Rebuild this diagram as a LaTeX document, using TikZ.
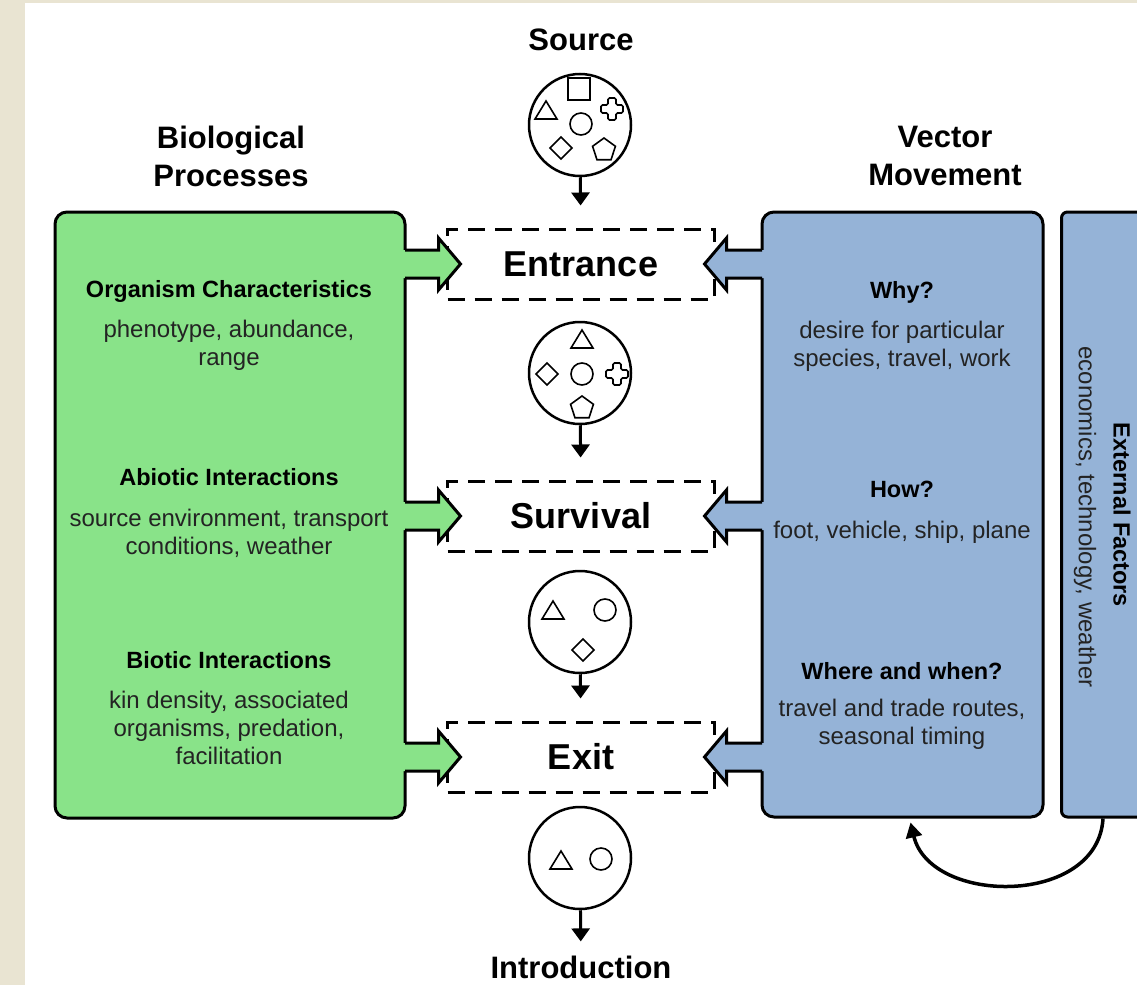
\documentclass[tikz,border=0pt]{standalone}
\usepackage{fontspec}
\setmainfont{Liberation Sans}
\usepackage{tikz}
\usetikzlibrary{arrows.meta,calc}
\definecolor{biogreen}{RGB}{137,227,137}
\definecolor{vecblue}{RGB}{149,179,215}
\definecolor{paper}{RGB}{233,228,210}
\definecolor{ink}{RGB}{35,35,35}
\newcommand{\factorhead}[1]{{\bfseries\fontsize{23.5}{28}\selectfont\color{black}#1}}
\tikzstyle{panel} =
        [
                rectangle,
                draw,
                line width = 3pt,
                rounded corners = 12pt,
                inner sep = 0pt
        ]
\tikzstyle{stage} =
        [
                rectangle,
                draw,
                line width = 3pt,
                dash pattern = on 17pt off 10pt,
                minimum width = 267pt,
                minimum height = 70pt,
                font = \fontsize{36}{40}\selectfont\bfseries
        ]
\tikzstyle{pool} =
        [
                circle,
                draw,
                line width = 2.5pt,
                minimum size = 102pt,
                inner sep = 0pt
        ]
\tikzstyle{title} =
        [
                align = center,
                inner sep = 0pt,
                font = \fontsize{31}{38}\selectfont\bfseries
        ]
\tikzstyle{factor} =
        [
                align = center,
                text = ink,
                inner sep = 0pt,
                font = \fontsize{24}{28}\selectfont
        ]
\tikzstyle{flow} =
        [
                line width = 3pt,
                -{Triangle[length=13pt,width=18pt]},
                shorten >= 22pt
        ]
\tikzstyle{feedback} =
        [
                line width = 3.5pt,
                -{Triangle[length=15pt,width=16pt]}
        ]
\tikzset{
    tri/.pic  = {\draw[line width=1.6pt] (-11,8) -- (11,8) -- (0,-10) -- cycle;},
    sq/.pic   = {\draw[line width=1.6pt] (-11,-11) rectangle (11,11);},
    dia/.pic  = {\draw[line width=1.6pt] (0,-11) -- (11,0) -- (0,11) -- (-11,0) -- cycle;},
    ring/.pic = {\draw[line width=1.6pt] (0,0) circle (11);},
    pent/.pic = {\draw[line width=1.6pt] (-90:12) -- (-18:12) -- (54:12) -- (126:12) -- (198:12) -- cycle;},
    crs/.pic  = {\draw[line width=1.6pt, rounded corners=1.5pt] (-4,-11) -- (4,-11) -- (4,-4) -- (11,-4) -- (11,4) -- (4,4) -- (4,11) -- (-4,11) -- (-4,4) -- (-11,4) -- (-11,-4) -- (-4,-4) -- cycle;}
}

\begin{document}
\begin{tikzpicture}[x=1pt, y=-1pt]
    \path[use as bounding box, clip] (0,0) rectangle (1137,985);
    \fill[paper] (0,0) rectangle (1137,985);
    \fill[white] (25,3) rectangle (1137,985);

    % side panels
    \node [panel, fill=biogreen, minimum width=350pt, minimum height=606pt] (bio) at (230,515) {};
    \node [panel, fill=vecblue, minimum width=281pt, minimum height=605pt] (vec) at (902.5,514.5) {};
    \node [panel, fill=vecblue, rounded corners=6pt, minimum width=140pt, minimum height=605pt, anchor=west] (ext) at (1060,514.5) {};

    % filtering stages
    \node [stage] (entr) at (581,264) {Entrance};
    \node [stage] (surv) at (581,516) {Survival};
    \node [stage] (exit) at (581,757) {Exit};

    % fat arrows out of the panels
    \foreach \s in {entr,surv,exit}
    {
        \begin{scope}[shift={(bio.east |- \s.center)}]
            \fill[biogreen] (-4,-14) -- (32,-14) -- (32,-26) -- (54,0) -- (32,26) -- (32,14) -- (-4,14) -- cycle;
            \draw[line width=3pt, line join=miter] (-1.5,-14) -- (32,-14) -- (32,-26) -- (54,0) -- (32,26) -- (32,14) -- (-1.5,14);
        \end{scope}
        \begin{scope}[shift={(vec.west |- \s.center)}, xscale=-1]
            \fill[vecblue] (-4,-14) -- (34,-14) -- (34,-26) -- (56,0) -- (34,26) -- (34,14) -- (-4,14) -- cycle;
            \draw[line width=3pt, line join=miter] (-1.5,-14) -- (34,-14) -- (34,-26) -- (56,0) -- (34,26) -- (34,14) -- (-1.5,14);
        \end{scope}
    }

    % headings
    \node [title] (srchead) at (581,40) {Source};
    \node [title] (biohead) at (231,156) {Biological\\Processes};
    \node [title] (vechead) at (945,156) {Vector\\Movement};
    \node [title] (intro) at (581,967) {Introduction};

    % species pools
    \node [pool] (src) at (580,125) {};
    \node [pool] (afterentr) at (580,373) {};
    \node [pool] (aftersurv) at (580,622) {};
    \node [pool] (afterexit) at (580,858) {};

    \path (src) ++(-1,-36) pic {sq};
    \path (src) ++(-34,-14) pic {tri};
    \path (src) ++(32,-16) pic {crs};
    \path (src) ++(1,-1) pic {ring};
    \path (src) ++(-19,23) pic {dia};
    \path (src) ++(24,25) pic {pent};

    \path (afterentr) ++(2,-33) pic {tri};
    \path (afterentr) ++(-33,1) pic {dia};
    \path (afterentr) ++(2,1) pic {ring};
    \path (afterentr) ++(37,1) pic {crs};
    \path (afterentr) ++(2,35) pic {pent};

    \path (aftersurv) ++(-27,-11) pic {tri};
    \path (aftersurv) ++(25,-12) pic {ring};
    \path (aftersurv) ++(3,28) pic {dia};

    \path (afterexit) ++(-19,3) pic {tri};
    \path (afterexit) ++(21,1) pic {ring};

    \draw [flow] (src) -- (entr);
    \draw [flow] (afterentr) -- (surv);
    \draw [flow] (aftersurv) -- (exit);
    \draw [flow, shorten >= 14pt] (afterexit) -- (intro);

    % biological processes
    \node [factor] (orgchar) at (229,325) {\factorhead{Organism Characteristics}\\[12pt]phenotype, abundance,\\range};
    \node [factor] (abiotic) at (229,513) {\factorhead{Abiotic Interactions}\\[13pt]source environment, transport\\conditions, weather};
    \node [factor] (biotic) at (229,708) {\factorhead{Biotic Interactions}\\[12pt]kin density, associated\\organisms, predation,\\facilitation};

    % vector movement
    \node [factor] (why) at (902,326) {\factorhead{Why?}\\[12pt]desire for particular\\species, travel, work};
    \node [factor] (how) at (902,512) {\factorhead{How?}\\[13pt]foot, vehicle, ship, plane};
    \node [factor] (where) at (902,706) {\factorhead{Where and when?}\\[9pt]travel and trade routes,\\seasonal timing};

    % external factors
    \node [factor, rotate=-90] (exttext) at (1085,517) {economics, technology, weather};
    \node [factor, rotate=-90] (exthead) at (1122,515) {\factorhead{External Factors}};

    \coordinate (fbstart) at ($(ext.south west)+(43,0)$);
    \coordinate (fbend) at ($(vec.south)+(8,4)$);
    \draw [feedback] (fbstart) .. controls +(-5,88) and +(20,83) .. (fbend);
\end{tikzpicture}
\end{document}
